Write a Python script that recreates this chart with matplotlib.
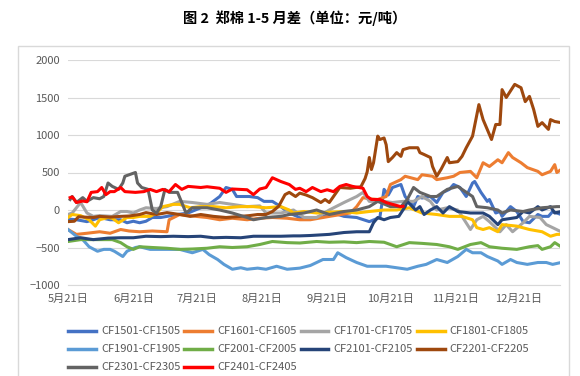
import matplotlib
matplotlib.use("Agg")
import matplotlib.pyplot as plt
from matplotlib.patches import Rectangle

plt.rcParams['font.family'] = ['Noto Sans CJK SC', 'DejaVu Sans']

title = "图 2  郑棉 1-5 月差（单位：元/吨）"

# x values: days after 5月21日
tick_days = [0, 31, 61, 92, 123, 153, 184, 214]
tick_labels = ["5月21日", "6月21日", "7月21日", "8月21日", "9月21日", "10月21日", "11月21日", "12月21日"]

names = ["CF1501-CF1505", "CF1601-CF1605", "CF1701-CF1705", "CF1801-CF1805",
         "CF1901-CF1905", "CF2001-CF2005", "CF2101-CF2105", "CF2201-CF2205",
         "CF2301-CF2305", "CF2401-CF2405"]
colors = ["#4472C4", "#ED7D31", "#A5A5A5", "#FFC000", "#5B9BD5",
          "#70AD47", "#264478", "#9E480E", "#636363", "#FF0000"]

cf15_days = [0, 4, 9, 12, 15, 20, 25, 28, 31, 34, 37, 40, 44, 47, 52, 57, 63, 67, 72, 75, 78, 80, 83, 86, 90, 93, 97, 101, 105, 110, 118, 121, 126, 131, 137, 143, 148, 150, 152, 154, 158, 160, 164, 166, 168, 172, 175, 178, 181, 183, 186, 189, 192, 193, 196, 199, 200, 203, 205, 206, 210, 213, 216, 219, 223, 225, 228, 230, 232, 234]
cf15_vals = [-120, -130, -155, -130, -100, -130, -130, -170, -150, -170, -150, -100, -100, -85, -60, -40, 30, 75, 180, 300, 275, 180, 180, 180, 165, 115, 115, 45, -40, -100, -100, -90, -40, -85, -100, -155, -100, 275, 200, 300, 340, 180, 45, 180, 160, 180, 100, 235, 275, 340, 300, 180, 360, 380, 235, 115, 140, -40, -20, -85, 45, -20, -155, -170, -60, -85, -85, -20, -40, -60]

cf16_days = [0, 4, 9, 15, 20, 25, 29, 34, 40, 47, 48, 53, 59, 66, 72, 78, 85, 91, 97, 104, 110, 115, 124, 134, 137, 140, 143, 147, 151, 153, 158, 160, 166, 168, 173, 175, 180, 183, 186, 191, 194, 197, 200, 204, 206, 209, 211, 215, 218, 223, 225, 229, 231, 232, 234]
cf16_vals = [-260, -325, -310, -290, -310, -260, -280, -290, -280, -290, -130, -60, -80, -100, -130, -110, -130, -110, -100, -110, -130, -130, -85, -40, 45, 165, 150, 140, 180, 340, 405, 450, 405, 470, 450, 405, 430, 450, 500, 515, 430, 630, 580, 670, 630, 765, 700, 630, 565, 515, 470, 515, 605, 500, 540]

cf17_days = [0, 2, 6, 9, 12, 15, 21, 25, 28, 31, 34, 37, 42, 47, 53, 59, 66, 72, 78, 85, 91, 94, 101, 107, 112, 118, 124, 131, 137, 140, 143, 150, 154, 159, 164, 168, 172, 175, 180, 185, 187, 191, 194, 197, 200, 205, 208, 211, 216, 219, 224, 227, 230, 234]
cf17_vals = [-60, -40, 100, -40, -85, -75, -85, -20, -20, -40, 0, 30, 20, 45, 115, 100, 75, 100, 75, 45, 55, -40, -40, 0, -100, -100, 0, 100, 180, 235, 115, 115, 100, 115, 115, 180, 115, 0, 30, 0, -85, -260, -130, -85, -155, -290, -195, -290, -170, -85, -100, -195, -235, -290]

cf18_days = [0, 2, 6, 10, 13, 15, 19, 21, 24, 28, 31, 34, 39, 42, 45, 50, 53, 58, 63, 69, 75, 82, 88, 94, 101, 105, 107, 112, 118, 124, 131, 137, 143, 150, 156, 162, 168, 175, 181, 187, 192, 194, 197, 200, 204, 206, 213, 219, 225, 229, 232, 234]
cf18_vals = [-100, -60, -75, -130, -215, -130, -100, -110, -170, -100, -100, -85, -85, -40, 45, 75, 75, 30, 45, 45, 30, 45, 45, 30, 45, 0, -40, -20, -40, -30, -20, -40, -20, 0, 0, 30, -40, -60, -85, -85, -130, -235, -260, -235, -290, -195, -215, -260, -290, -350, -325, -325]

cf19_days = [0, 4, 7, 10, 14, 17, 20, 22, 26, 28, 32, 34, 39, 47, 53, 59, 64, 67, 71, 74, 78, 82, 85, 90, 94, 99, 104, 110, 115, 118, 121, 126, 128, 132, 137, 142, 151, 156, 161, 166, 170, 175, 180, 185, 189, 192, 196, 199, 204, 206, 210, 213, 218, 223, 227, 230, 234]
cf19_vals = [-260, -350, -395, -490, -550, -525, -525, -550, -620, -550, -500, -490, -525, -525, -525, -570, -525, -595, -660, -725, -790, -770, -790, -775, -790, -750, -790, -775, -740, -700, -660, -660, -570, -635, -700, -750, -750, -770, -790, -750, -725, -660, -700, -620, -525, -570, -570, -620, -680, -725, -660, -700, -725, -700, -700, -725, -700]

cf20_days = [0, 6, 12, 19, 21, 25, 28, 31, 34, 40, 47, 53, 59, 66, 72, 78, 85, 91, 97, 104, 110, 118, 124, 131, 137, 143, 150, 156, 162, 168, 175, 181, 185, 191, 196, 200, 206, 213, 219, 223, 225, 229, 231, 234]
cf20_vals = [-420, -395, -395, -395, -395, -435, -490, -525, -490, -500, -510, -525, -520, -510, -490, -500, -490, -460, -420, -435, -440, -420, -430, -425, -435, -420, -430, -490, -435, -445, -460, -490, -525, -460, -435, -490, -510, -525, -490, -475, -525, -490, -435, -490]

cf21_days = [0, 6, 12, 19, 25, 31, 37, 44, 50, 57, 63, 69, 75, 82, 88, 94, 101, 107, 110, 115, 124, 131, 137, 143, 145, 147, 150, 153, 157, 160, 161, 165, 167, 169, 172, 175, 178, 181, 185, 191, 197, 200, 204, 206, 213, 216, 219, 223, 225, 229, 231, 234]
cf21_vals = [-395, -370, -395, -375, -370, -370, -350, -355, -350, -355, -350, -370, -365, -370, -350, -350, -350, -345, -345, -340, -325, -300, -290, -290, -170, -100, -130, -100, -85, 45, 115, 0, 45, -60, 0, 45, -40, 45, -20, -40, -40, -85, -195, -130, -100, -20, -40, 45, 0, 45, -40, -20]

cf22_days = [0, 3, 5, 8, 12, 15, 20, 25, 29, 34, 37, 42, 47, 53, 58, 63, 69, 75, 82, 86, 90, 94, 97, 100, 103, 105, 108, 110, 113, 116, 120, 122, 124, 126, 129, 134, 139, 141, 142, 143, 144, 145, 147, 148, 150, 151, 152, 154, 156, 158, 159, 162, 166, 167, 169, 172, 173, 175, 177, 180, 181, 185, 187, 189, 192, 195, 197, 201, 203, 205, 206, 208, 212, 215, 217, 219, 221, 223, 225, 228, 229, 231, 234]
cf22_vals = [-155, -150, -90, -95, -100, -85, -95, -85, -80, -60, -35, -60, -35, -60, -85, -60, -85, -100, -85, -75, -60, -60, -20, 50, 205, 235, 180, 225, 200, 165, 100, 140, 100, 180, 300, 290, 310, 420, 510, 700, 540, 630, 985, 940, 960, 870, 645, 700, 765, 715, 805, 830, 830, 765, 740, 700, 580, 450, 540, 700, 630, 645, 715, 830, 985, 1405, 1205, 940, 1140, 1140, 1605, 1500, 1675, 1630, 1445, 1515, 1340, 1115, 1165, 1075, 1205, 1180, 1165]

cf23_days = [1, 2, 4, 7, 9, 12, 15, 17, 19, 21, 24, 26, 27, 29, 32, 33, 35, 38, 40, 42, 44, 46, 48, 52, 54, 56, 59, 66, 72, 78, 85, 88, 94, 101, 105, 112, 118, 124, 131, 137, 143, 147, 153, 158, 161, 164, 167, 172, 175, 180, 185, 187, 192, 194, 199, 204, 206, 210, 216, 219, 225, 232, 234]
cf23_vals = [140, 180, 100, 165, 115, 165, 150, 180, 360, 315, 275, 360, 450, 470, 500, 360, 300, 275, 0, -40, 45, 275, 235, 235, 100, -40, 30, 30, 0, -40, -100, -130, -100, -85, -60, -40, 0, -60, -20, 0, 45, 115, 45, 45, 140, 300, 235, 180, 180, 275, 315, 275, 180, 45, 30, 0, -40, 0, -20, 0, 30, 45, 45]

cf24_days = [1, 2, 4, 7, 9, 11, 14, 16, 18, 20, 22, 25, 27, 32, 36, 39, 42, 45, 48, 51, 54, 57, 63, 66, 72, 75, 78, 85, 88, 91, 94, 97, 101, 105, 108, 110, 113, 116, 120, 123, 126, 129, 132, 135, 140, 142, 144, 148, 151, 154, 158, 159]
cf24_vals = [165, 175, 100, 120, 110, 235, 245, 300, 205, 245, 245, 300, 245, 235, 245, 275, 245, 275, 245, 340, 275, 315, 300, 310, 290, 235, 280, 270, 205, 280, 300, 430, 380, 340, 275, 290, 245, 300, 245, 270, 245, 315, 340, 315, 290, 180, 140, 140, 100, 75, 45, 50]

series = [(cf15_days, cf15_vals), (cf16_days, cf16_vals), (cf17_days, cf17_vals),
          (cf18_days, cf18_vals), (cf19_days, cf19_vals), (cf20_days, cf20_vals),
          (cf21_days, cf21_vals), (cf22_days, cf22_vals), (cf23_days, cf23_vals),
          (cf24_days, cf24_vals)]

fig = plt.figure(figsize=(5.8, 3.76), dpi=100)
ax = fig.add_axes([68/580, 1-285/376, (560-68)/580, (285-60)/376])

lines = []
for (d, v), name, c in zip(series, names, colors):
    ln, = ax.plot(d, v, color=c, lw=2.2, label=name, solid_joinstyle='round')
    lines.append(ln)

ax.set_xlim(0, 233.5)
ax.set_ylim(-1000, 2000)
ax.set_yticks(range(-1000, 2001, 500))
ax.set_xticks(tick_days)
ax.set_xticklabels(tick_labels)
ax.grid(axis='y', color='#D9D9D9', lw=0.8)
ax.set_axisbelow(True)
for s in ['top', 'right', 'left']:
    ax.spines[s].set_visible(False)
ax.spines['bottom'].set_color('#D9D9D9')
ax.spines['bottom'].set_linewidth(0.8)
ax.tick_params(axis='both', length=0, labelsize=8, colors='#595959')
ax.tick_params(axis='x', pad=6.3)
ax.tick_params(axis='y', pad=5.8)

fig.text(0.508, 1-18/376, title, ha='center', va='center', fontsize=10.3,
         fontweight='bold', color='#000000')

rect = Rectangle((18/580, -0.05), (569-18)/580, 1-46/376+0.05, transform=fig.transFigure,
                 fill=False, edgecolor='#D9D9D9', lw=1.0, clip_on=False)
fig.patches.append(rect)

order = [0, 4, 8, 1, 5, 9, 2, 6, 3, 7]
leg = fig.legend([lines[i] for i in order], [names[i] for i in order],
                 loc='upper center', bbox_to_anchor=(0.515, 1-322/376), ncol=4,
                 frameon=False, fontsize=8, handlelength=2.5, handletextpad=0.45,
                 columnspacing=0.36, labelspacing=0.72, borderaxespad=0)
for t in leg.get_texts():
    t.set_color('#595959')
for h in leg.legend_handles:
    h.set_linewidth(2.5)

fig.savefig("out.png", dpi=100)
